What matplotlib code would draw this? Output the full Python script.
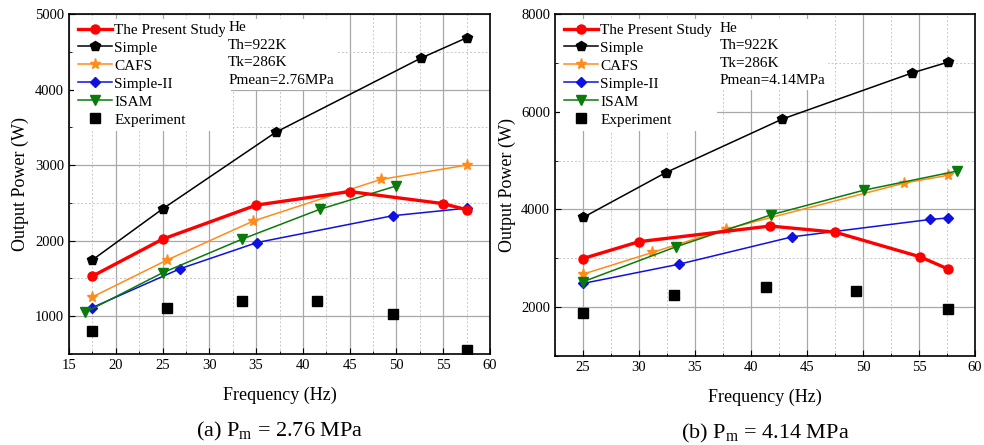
import matplotlib.pyplot as plt
from matplotlib.ticker import MultipleLocator

plt.rcParams['font.family'] = ['Liberation Serif', 'DejaVu Serif']

# (a) Pm = 2.76 MPa
a_present_f = [17.5, 25.0, 35.0, 45.0, 55.0, 57.5]
a_present_p = [1530, 2020, 2470, 2650, 2490, 2410]
a_simple_f = [17.5, 25.0, 37.1, 52.6, 57.5]
a_simple_p = [1745, 2420, 3435, 4415, 4685]
a_cafs_f = [17.5, 25.5, 34.7, 48.3, 57.5]
a_cafs_p = [1255, 1745, 2260, 2810, 3000]
a_simple2_f = [17.5, 26.9, 35.1, 49.6, 57.5]
a_simple2_p = [1115, 1630, 1975, 2330, 2430]
a_isam_f = [16.7, 25.0, 33.5, 41.8, 50.0]
a_isam_p = [1050, 1575, 2020, 2415, 2725]
a_exp_f = [17.5, 25.5, 33.5, 41.5, 49.6, 57.5]
a_exp_p = [805, 1110, 1200, 1200, 1035, 550]

# (b) Pm = 4.14 MPa
b_present_f = [25.0, 30.0, 41.7, 47.5, 55.1, 57.6]
b_present_p = [2995, 3340, 3660, 3535, 3030, 2780]
b_simple_f = [25.0, 32.4, 42.8, 54.4, 57.6]
b_simple_p = [3835, 4755, 5850, 6795, 7015]
b_cafs_f = [25.0, 31.2, 37.8, 53.7, 57.6]
b_cafs_p = [2675, 3120, 3600, 4540, 4700]
b_simple2_f = [25.0, 33.6, 43.7, 56.0, 57.6]
b_simple2_p = [2485, 2880, 3440, 3795, 3825]
b_isam_f = [25.0, 33.3, 41.8, 50.1, 58.4]
b_isam_p = [2520, 3235, 3890, 4395, 4785]
b_exp_f = [25.0, 33.1, 41.3, 49.4, 57.6]
b_exp_p = [1885, 2255, 2405, 2335, 1965]

series_labels = ["The Present Study", "Simple", "CAFS", "Simple-II", "ISAM", "Experiment"]
info_a = "He\nTh=922K\nTk=286K\nPmean=2.76MPa"
info_b = "He\nTh=922K\nTk=286K\nPmean=4.14MPa"


def draw_panel(ax, data):
    present, simple, cafs, simple2, isam, exp = data
    ax.plot(*present, color="red", lw=2.4, marker="o", ms=6.5, label=series_labels[0], zorder=5)
    ax.plot(*simple, color="black", lw=1.1, marker="p", ms=7.5, label=series_labels[1], zorder=4)
    ax.plot(*cafs, color="#ff8c1a", lw=1.1, marker="*", ms=8, label=series_labels[2], zorder=4)
    ax.plot(*simple2, color="#1010e0", lw=1.1, marker="D", ms=5.5, label=series_labels[3], zorder=4)
    ax.plot(*isam, color="#0a7a0a", lw=1.1, marker="v", ms=7, label=series_labels[4], zorder=4)
    ax.plot(*exp, color="black", ls="none", marker="s", ms=6.5, label=series_labels[5], zorder=4)

    ax.grid(True, which="major", color="#a8a8a8", lw=0.9, ls="-")
    ax.grid(True, which="minor", color="#c8c8c8", lw=0.7, ls=(0, (2, 2)))
    ax.set_axisbelow(True)
    ax.tick_params(which="both", direction="in", labelsize=10.5)
    ax.tick_params(which="major", length=4)
    ax.tick_params(which="minor", length=2)
    for sp in ax.spines.values():
        sp.set_linewidth(1.2)

    leg = ax.legend(loc="upper left", bbox_to_anchor=(0.0, 1.0), fontsize=11,
                    frameon=True, fancybox=False, borderpad=0.3, labelspacing=0.28,
                    handlelength=2.2, handletextpad=0.15, borderaxespad=0.3)
    leg.get_frame().set_edgecolor("none")
    leg.get_frame().set_facecolor("white")
    leg.get_frame().set_alpha(1.0)
    leg.set_zorder(10)


fig = plt.figure(figsize=(9.84, 4.45), dpi=100)
ax1 = fig.add_axes([69 / 984, 1 - 354 / 445, (490 - 69) / 984, (354 - 14) / 445])
ax2 = fig.add_axes([555 / 984, 1 - 356 / 445, (975 - 555) / 984, (356 - 14) / 445])

draw_panel(ax1, [(a_present_f, a_present_p), (a_simple_f, a_simple_p), (a_cafs_f, a_cafs_p),
                 (a_simple2_f, a_simple2_p), (a_isam_f, a_isam_p), (a_exp_f, a_exp_p)])
draw_panel(ax2, [(b_present_f, b_present_p), (b_simple_f, b_simple_p), (b_cafs_f, b_cafs_p),
                 (b_simple2_f, b_simple2_p), (b_isam_f, b_isam_p), (b_exp_f, b_exp_p)])

ax1.set_xlim(15, 60)
ax1.set_ylim(500, 5000)
ax1.xaxis.set_major_locator(MultipleLocator(5))
ax1.xaxis.set_minor_locator(MultipleLocator(2.5))
ax1.yaxis.set_major_locator(MultipleLocator(1000))
ax1.yaxis.set_minor_locator(MultipleLocator(500))

ax2.set_xlim(22.5, 60)
ax2.set_ylim(1000, 8000)
ax2.xaxis.set_major_locator(MultipleLocator(5))
ax2.xaxis.set_minor_locator(MultipleLocator(2.5))
ax2.yaxis.set_major_locator(MultipleLocator(2000))
ax2.yaxis.set_minor_locator(MultipleLocator(1000))

for ax, info, info_x, cap in [(ax1, info_a, 0.378, "(a) P$_\\mathregular{m}$ = 2.76 MPa"),
                              (ax2, info_b, 0.392, "(b) P$_\\mathregular{m}$ = 4.14 MPa")]:
    ax.set_xlabel("Frequency (Hz)", fontsize=13, labelpad=11)
    ax.set_ylabel("Output Power (W)", fontsize=13, labelpad=4)
    ax.text(info_x, 0.978, info, transform=ax.transAxes, ha="left", va="top",
            fontsize=11, linespacing=1.45, zorder=11,
            bbox=dict(facecolor="white", edgecolor="none", pad=2))
    ax.text(0.5, -0.228, cap, transform=ax.transAxes, ha="center", va="center", fontsize=16)

fig.savefig("out.png", dpi=100)
